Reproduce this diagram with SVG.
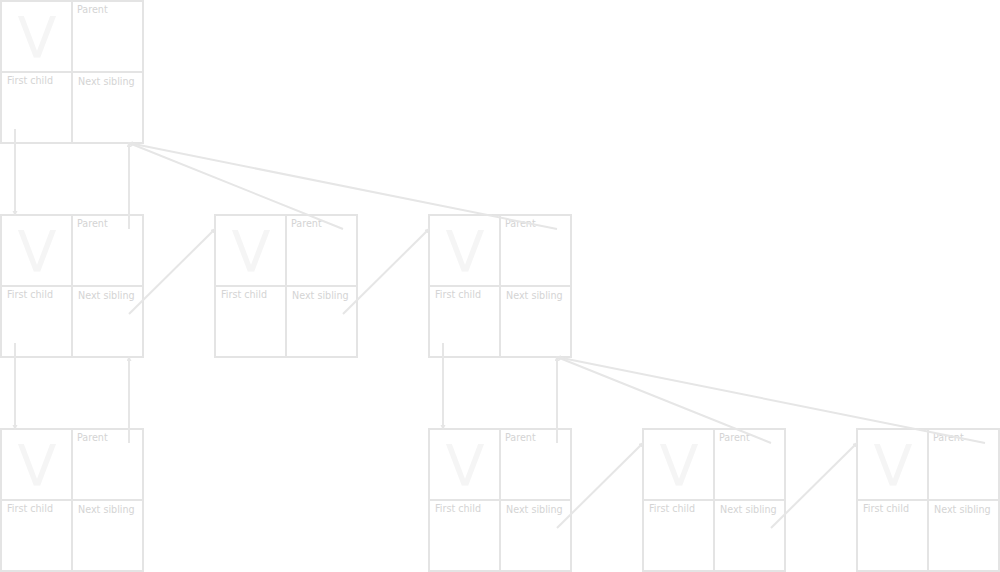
<svg xmlns="http://www.w3.org/2000/svg" width="1000" height="572" viewBox="0 0 1000 572">
<defs>
<style>
.cell{fill:#fff;stroke:#e4e4e4;stroke-width:2}
.v{font-family:"DejaVu Sans",sans-serif;font-size:57px;fill:#f5f5f5;text-anchor:middle}
.lb{font-family:"DejaVu Sans",sans-serif;font-size:9.6px;fill:#d4d4d4}
.c{stroke:#e6e6e6;stroke-width:2;fill:none;marker-end:url(#ah)}
</style>
<marker id="ah" markerUnits="userSpaceOnUse" markerWidth="6" markerHeight="6" refX="4" refY="2.5" orient="auto">
<path d="M0,0 L5,2.5 L0,5 z" fill="#e6e6e6"/>
</marker>
<g id="tpl">
<rect class="cell" x="0" y="0" width="71" height="71"/>
<rect class="cell" x="71" y="0" width="71" height="71"/>
<rect class="cell" x="0" y="71" width="71" height="71"/>
<rect class="cell" x="71" y="71" width="71" height="71"/>
<text class="v" x="36" y="57">V</text>
<text class="lb" x="76" y="12">Parent</text>
<text class="lb" x="6" y="83">First child</text>
<text class="lb" x="77" y="84">Next sibling</text>
</g>
</defs>
<g id="n1"><use href="#tpl" x="1" y="1"/></g>
<g id="n2"><use href="#tpl" x="1" y="215"/></g>
<g id="n3"><use href="#tpl" x="215" y="215"/></g>
<g id="n4"><use href="#tpl" x="429" y="215"/></g>
<g id="n5"><use href="#tpl" x="1" y="429"/></g>
<g id="n6"><use href="#tpl" x="429" y="429"/></g>
<g id="n7"><use href="#tpl" x="643" y="429"/></g>
<g id="n8"><use href="#tpl" x="857" y="429"/></g>
<g id="connectors">
<line class="c" x1="15" y1="129" x2="15" y2="215"/>
<line class="c" x1="129" y1="229" x2="129" y2="143"/>
<line class="c" x1="343" y1="229" x2="129" y2="143"/>
<line class="c" x1="557" y1="229" x2="129" y2="143"/>
<line class="c" x1="129" y1="314" x2="215" y2="229"/>
<line class="c" x1="343" y1="314" x2="429" y2="229"/>
<line class="c" x1="15" y1="343" x2="15" y2="429"/>
<line class="c" x1="129" y1="443" x2="129" y2="357"/>
<line class="c" x1="443" y1="343" x2="443" y2="429"/>
<line class="c" x1="557" y1="443" x2="557" y2="357"/>
<line class="c" x1="771" y1="443" x2="557" y2="357"/>
<line class="c" x1="985" y1="443" x2="557" y2="357"/>
<line class="c" x1="557" y1="528" x2="643" y2="443"/>
<line class="c" x1="771" y1="528" x2="857" y2="443"/>
</g>
</svg>
